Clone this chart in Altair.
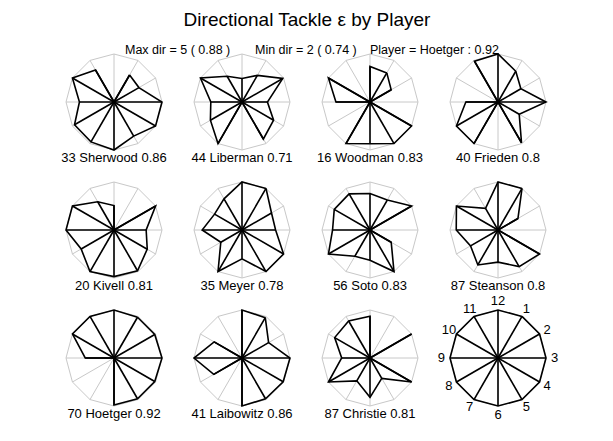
import math
import altair as alt
import pandas as pd

# ---- text ----
title_text = "Directional Tackle \u03b5 by Player"
subtitle_parts = ["Max dir = 5 ( 0.88 )", "Min dir = 2 ( 0.74 )", "Player = Hoetger : 0.92"]
subtitle_x = [125, 255, 370]

# ---- data: directional values (directions 1..12, clockwise from 12 o'clock) ----
directions = [1, 2, 3, 4, 5, 6, 7, 8, 9, 10, 11, 12]
player_labels = ["33 Sherwood 0.86", "44 Liberman 0.71", "16 Woodman 0.83", "40 Frieden 0.8",
                 "20 Kivell 0.81", "35 Meyer 0.78", "56 Soto 0.83", "87 Steanson 0.8",
                 "70 Hoetger 0.92", "41 Laibowitz 0.86", "87 Christie 0.81"]
sherwood  = [0.65, 0.60, 1.00, 1.00, 0.82, 1.00, 0.96, 0.95, 0.72, 1.00, 0.77, 0.00]
liberman  = [0.64, 0.98, 0.53, 0.76, 0.89, 0.00, 1.00, 0.76, 0.65, 1.00, 0.62, 0.49]
woodman   = [0.70, 0.51, 0.00, 1.00, 1.00, 0.87, 1.00, 0.00, 0.71, 1.00, 0.00, 0.74]
frieden   = [0.74, 0.55, 1.00, 0.51, 0.98, 0.00, 1.00, 1.00, 0.67, 0.00, 0.98, 1.00]
kivell    = [0.00, 1.00, 0.67, 0.80, 0.98, 0.97, 1.00, 0.79, 1.00, 1.00, 0.68, 0.51]
meyer     = [1.00, 0.71, 0.70, 1.00, 1.00, 0.60, 1.00, 0.51, 0.83, 0.66, 0.75, 1.00]
soto      = [0.72, 1.00, 0.00, 0.51, 1.00, 0.63, 0.63, 1.00, 0.78, 0.86, 0.87, 0.76]
steanson  = [1.00, 0.48, 0.00, 1.00, 0.88, 0.67, 0.84, 0.66, 0.87, 1.00, 0.52, 1.00]
hoetger   = [0.98, 0.98, 1.00, 0.98, 0.98, 0.98, 0.00, 0.00, 0.60, 1.00, 1.00, 1.00]
laibowitz = [0.97, 0.64, 1.00, 0.99, 0.98, 1.00, 0.00, 0.68, 1.00, 0.67, 0.00, 1.00]
christie  = [0.00, 1.00, 0.00, 1.00, 0.49, 0.82, 0.55, 1.00, 0.59, 0.85, 0.89, 0.87]
key_values = [1.0] * 12
series = [sherwood, liberman, woodman, frieden, kivell, meyer, soto, steanson,
          hoetger, laibowitz, christie, key_values]
panel_labels = player_labels + [""]

# ---- layout ----
col_x = [114, 242, 370, 498]
row_y = [102, 230, 358]
R = 48
W, H = 613, 441


def pos(cx, cy, k, r):
    th = math.radians(30 * k)
    return cx + R * r * math.sin(th), cy - R * r * math.cos(th)


grey_poly, grey_spk, blk_poly, blk_spk, names, keylab = [], [], [], [], [], []
for p, vals in enumerate(series):
    cx = col_x[p % 4]
    cy = row_y[p // 4]
    seq = directions + [directions[0]]
    for i, k in enumerate(seq):
        gx, gy = pos(cx, cy, k, 1.0)
        grey_poly.append(dict(pid=p, seq=i, x=gx, y=gy))
        v = vals[k - 1]
        bx, by = pos(cx, cy, k, v)
        blk_poly.append(dict(pid=p, seq=i, x=bx, y=by))
    for k in directions:
        gx, gy = pos(cx, cy, k, 1.0)
        grey_spk.append(dict(x=cx, y=cy, x2=gx, y2=gy))
        bx, by = pos(cx, cy, k, vals[k - 1])
        blk_spk.append(dict(x=cx, y=cy, x2=bx, y2=by))
    if panel_labels[p]:
        names.append(dict(x=cx, y=cy + 56, t=panel_labels[p]))
    else:
        for k in directions:
            lx, ly = pos(cx, cy, k, 1.18)
            keylab.append(dict(x=lx, y=ly, t=str(k)))

xs = alt.Scale(domain=[0, W], range=[0, W], nice=False, zero=False)
ys = alt.Scale(domain=[H, 0], nice=False, zero=False)


def X(f="x"):
    return alt.X(f"{f}:Q", scale=xs, axis=None)


def Y(f="y"):
    return alt.Y(f"{f}:Q", scale=ys, axis=None)


FONT = "Liberation Sans"
grey = "#c8c8c8"

l_gpoly = alt.Chart(pd.DataFrame(grey_poly)).mark_line(color=grey, strokeWidth=1).encode(
    x=X(), y=Y(), detail="pid:N", order="seq:Q")
l_gspk = alt.Chart(pd.DataFrame(grey_spk)).mark_rule(color=grey, strokeWidth=1).encode(
    x=X(), y=Y(), x2="x2:Q", y2="y2:Q")
l_bpoly = alt.Chart(pd.DataFrame(blk_poly)).mark_line(color="black", strokeWidth=1.6).encode(
    x=X(), y=Y(), detail="pid:N", order="seq:Q")
l_bspk = alt.Chart(pd.DataFrame(blk_spk)).mark_rule(color="black", strokeWidth=1.6).encode(
    x=X(), y=Y(), x2="x2:Q", y2="y2:Q")
l_names = alt.Chart(pd.DataFrame(names)).mark_text(
    font=FONT, fontSize=13, color="black", baseline="middle", align="center").encode(
    x=X(), y=Y(), text="t:N")
l_key = alt.Chart(pd.DataFrame(keylab)).mark_text(
    font=FONT, fontSize=13, color="black", baseline="middle", align="center").encode(
    x=X(), y=Y(), text="t:N")

title_df = pd.DataFrame([dict(x=307, y=20, t=title_text)])
l_title = alt.Chart(title_df).mark_text(
    font=FONT, fontSize=19, color="black", baseline="middle", align="center").encode(
    x=X(), y=Y(), text="t:N")
sub_df = pd.DataFrame([dict(x=sx, y=50, t=s) for sx, s in zip(subtitle_x, subtitle_parts)])
l_sub = alt.Chart(sub_df).mark_text(
    font=FONT, fontSize=12.5, color="black", baseline="middle", align="left").encode(
    x=X(), y=Y(), text="t:N")

chart = alt.layer(l_gpoly, l_gspk, l_bpoly, l_bspk, l_names, l_key, l_title, l_sub).properties(
    width=W, height=H, autosize=alt.AutoSizeParams(type="none"), padding=0,
    background="white",
).configure_view(stroke=None)

chart.save("out.html", embed_options={"renderer": "svg", "actions": False})
